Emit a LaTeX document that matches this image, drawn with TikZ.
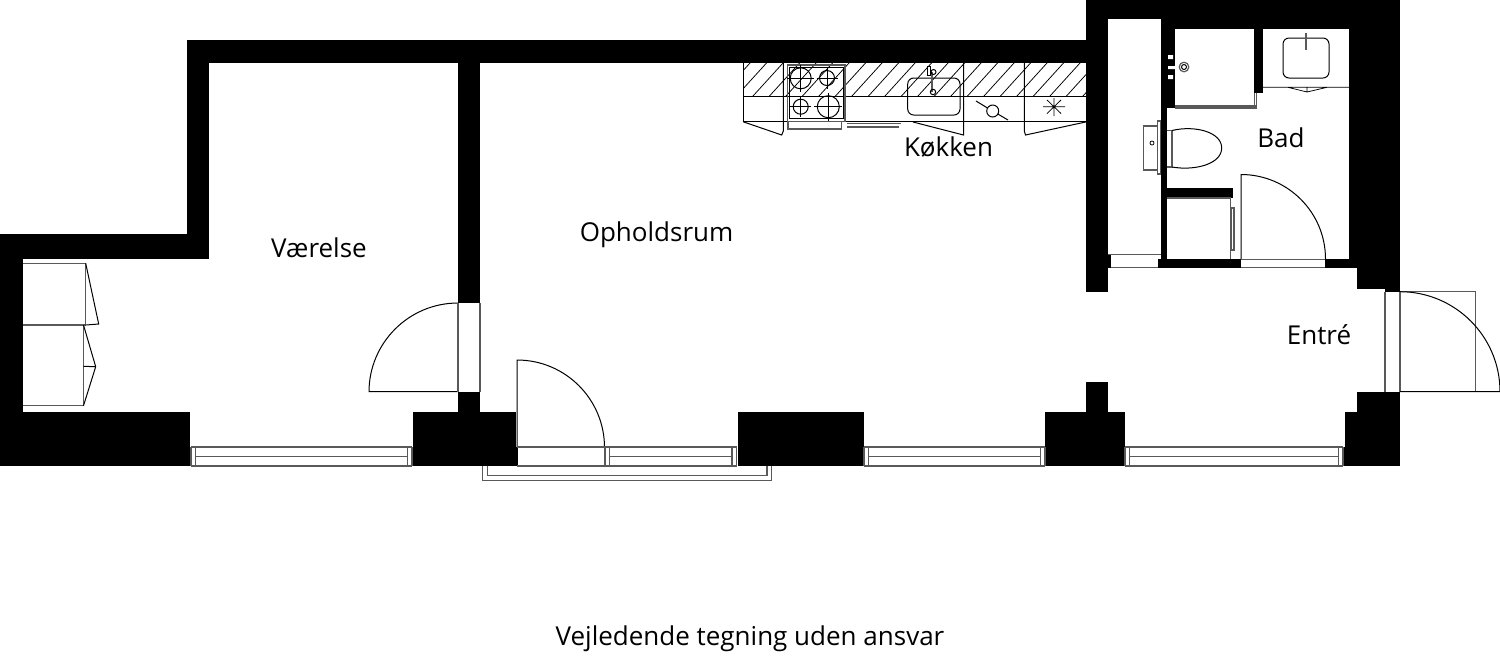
\documentclass[tikz,border=0pt]{standalone}
\usepackage{fontspec}
\setmainfont{Open Sans}
\tikzset{
  wall/.style={fill=black,draw=none},
  ln/.style={draw=black,line width=0.5pt,fill=none},
  gl/.style={draw=black!65,line width=0.6pt,fill=none},
  thin ln/.style={draw=black,line width=0.38pt,fill=none},
  lbl/.style={font=\fontsize{13}{15}\selectfont,inner sep=0pt,text=black,anchor=base}
}
\newcommand{\Rc}[4]{\fill[wall] (#1,#2) rectangle (#3,#4);}
\newcommand{\Burner}[3]{\draw[ln] (#1,#2) circle[radius=#3];
  \draw[thin ln] (#1-#3-3,#2) -- (#1+#3+3,#2) (#1,#2-#3-3) -- (#1,#2+#3+3);}
\newcommand{\WinLines}[4]{\draw[gl] (#1,447) -- (#4,447) (#2,456.5) -- (#3,456.5) (#1,466) -- (#4,466)
   (#1,447) -- (#1,466) (#2,447) -- (#2,466) (#3,447) -- (#3,466) (#4,447) -- (#4,466);}
\begin{document}
\begin{tikzpicture}[x=0.5pt,y=-0.5pt]
\useasboundingbox (0,0) rectangle (1500,661);
\fill[white] (0,0) rectangle (1500,661);
% hatch
\begin{scope}
\clip (743,63) rectangle (1087,96);
\foreach \i in {0,...,23} {\draw[thin ln] (720+\i*16.5,96) -- (750+\i*16.5,63);}
\end{scope}
% walls
\Rc{0}{233.5}{209}{259}
\Rc{0}{233.5}{23}{466}
\Rc{0}{411.7}{190}{466}
\Rc{187}{40}{209}{259}
\Rc{187}{40}{1087}{63}
\Rc{458}{63}{480}{303}
\Rc{458}{391.5}{480}{412}
\Rc{413}{412}{516}{466}
\Rc{516}{447}{517.5}{466}
\Rc{738}{412}{864}{466}
\Rc{1045}{412}{1125}{466}
\Rc{1086}{381.7}{1108}{412}
\Rc{1357}{392}{1400}{466}
\Rc{1345}{412}{1357}{466}
\Rc{1343}{447}{1345}{466}
\Rc{1086}{0}{1400}{19}
\Rc{1086}{0}{1108}{292}
\Rc{1160.5}{0}{1400}{29}
\Rc{1160.5}{19}{1175}{108}
\Rc{1254}{29}{1263}{93}
\Rc{1349}{29}{1400}{259.3}
\Rc{1357}{259}{1400}{289}
\Rc{1385}{289}{1400}{292}
\Rc{1158}{259.3}{1241}{267.7}
\Rc{1325}{259.3}{1357}{267.7}
\Rc{1160.5}{108}{1166.6}{260}
\Rc{1166}{188}{1233}{198}
\Rc{1108}{255}{1111}{268}
% doors
\draw[ln] (517,447) -- (517,360) arc[start angle=-90,end angle=0,radius=87.5];
\draw[gl] (517,447) -- (605,447) (517,466) -- (605,466);
\draw[ln] (369,391.5) -- (458,391.5) (458,303) arc[start angle=-90,end angle=-180,radius=89];
\draw[gl] (458,303) -- (458,391.5) (480,303) -- (480,391.5);
\draw[ln] (1241,259.3) -- (1241,174.5) arc[start angle=-90,end angle=0,radius=84.5];
\draw[gl] (1241,259.3) -- (1325,259.3) (1241,267.7) -- (1325,267.7);
\draw[gl] (1385,292) -- (1385,392) (1400,292) -- (1400,392);
\draw[gl] (1400,291.7) -- (1475.7,291.7) -- (1475.7,391.7);
\draw[ln] (1400,391.7) -- (1500,391.7) (1400,291.7) arc[start angle=-90,end angle=0,radius=100];
% windows
\WinLines{191}{195.6}{407.7}{412}
\WinLines{605}{609.6}{732}{736.7}
\WinLines{864}{868.5}{1040.5}{1045}
\WinLines{1125}{1129.5}{1338.5}{1343}
% balcony
\draw[gl] (482.3,466) -- (482.3,480.3) -- (771.7,480.3) -- (771.7,466);
\draw[gl] (487.7,466) -- (487.7,475.3) -- (767,475.3) -- (767,466);
% closets
\draw[gl] (23,263.3) -- (85.7,263.3) -- (85.7,325);
\draw[gl] (23,325) -- (85.7,325);
\draw[ln] (85.7,263.3) -- (98.7,324) -- (85.7,325);
\draw[gl] (83.5,325) -- (83.5,405.7) -- (23,405.7);
\draw[ln] (83.5,325) -- (95.7,366.7) -- (83.5,405.7) (83.5,366.3) -- (95.7,366.7);
% kitchen
\draw[ln] (743,63) -- (743,121.7) -- (1087,121.7) (743,96) -- (1087,96);
\draw[ln] (783.3,63) -- (783.3,131) -- (781.7,135) -- (743,121.7);
\draw[ln] (963.5,63) -- (963.5,135) -- (913,122);
\draw[ln] (1024.3,63) -- (1024.3,131) -- (1025.5,135) -- (1087,121.7);
\draw[gl] (787.3,65) rectangle (845,121.7);
\draw[ln] (789,67) rectangle (843,118.5);
\draw[gl] (788,121.7) -- (788,129) -- (841.7,129) -- (841.7,121.7);
\draw[gl] (847,123.5) -- (901,123.5) (847,127) -- (899,127);
\Burner{800.7}{78.3}{10.5}
\Burner{827}{78}{7.5}
\Burner{800.7}{106.7}{7.5}
\Burner{828.3}{106.7}{11}
\draw[ln,rounded corners=3pt] (907.7,78) rectangle (960,115);
\draw[gl,line width=1pt] (931.5,72) -- (931.5,92);
\draw[ln] (927.5,66) rectangle (930,75);
\draw[ln] (933.5,72) circle[radius=2.5];
\draw[ln] (933,92) circle[radius=2.7];
\draw[ln] (992.7,111) circle[radius=6];
\draw[ln] (976,101) -- (987.5,108) (997.8,114) -- (1008,120);
\draw[thin ln] (1043,106.7) -- (1065,106.7) (1054,98) -- (1054,116) (1047,100) -- (1061,113.5) (1047,113.5) -- (1061,100);
% bathroom
\fill[white] (1108,19) rectangle (1160.5,255);
\draw[gl] (1108,254.5) -- (1160.5,254.5) (1111,267.7) -- (1158,267.7);
\draw[ln,rounded corners=3pt] (1283,38) rectangle (1329,78);
\draw[gl,line width=0.9pt] (1306,33) -- (1306,50);
\draw[thin ln] (1263,87.3) -- (1349,87.3) (1288,87.3) -- (1307,92) -- (1327,87.3) (1307,87.3) -- (1307,92);
\draw[gl] (1175,106) -- (1256.7,106) (1175,108) -- (1256.7,108) (1254.5,93) -- (1254.5,108) (1256.7,93) -- (1256.7,108);
\fill[white] (1168,55) rectangle (1173,59) (1168,75) rectangle (1173,79) (1168,66) rectangle (1180,69);
\draw[gl,fill=white] (1184,67) circle[radius=4.8];
\draw[ln,fill=white] (1184,67) circle[radius=2.5];
\draw[gl] (1143.3,126) rectangle (1157.7,170);
\draw[gl] (1157.7,121) rectangle (1160.5,174);
\draw[thin ln] (1152,143) circle[radius=2];
\draw[gl] (1166.6,130.5) -- (1172,130.5) -- (1172,167) -- (1166.6,167);
\draw[ln] (1172,130.5) .. controls (1195,125) and (1221.7,132) .. (1221.7,148) .. controls (1221.7,164) and (1195,171) .. (1172,167);
\draw[gl] (1230.7,198) -- (1230.7,259.3);
\draw[gl] (1231,208) rectangle (1234,250);
\draw[gl] (1166.6,198) -- (1230.7,198);
% labels
\node[lbl] (vaerelse) at (319,257) {Værelse};
\node[lbl] (ophold) at (656.5,241.5) {Opholdsrum};
\node[lbl] (kokken) at (948.5,156) {Køkken};
\node[lbl] (bad) at (1281,147) {Bad};
\node[lbl] (entre) at (1319,344) {Entré};
\node[lbl] (note) at (750,645) {Vejledende tegning uden ansvar};
\end{tikzpicture}
\end{document}
